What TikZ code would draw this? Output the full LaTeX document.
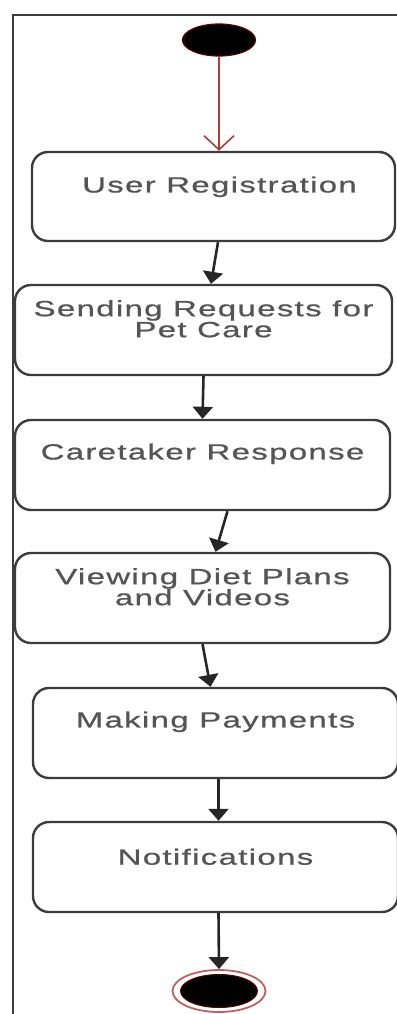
\documentclass[tikz,border=0pt]{standalone}
\usepackage{fontspec}
\usetikzlibrary{shapes.geometric,arrows.meta}
\newfontfamily\boxfont[FakeStretch=1.5,LetterSpace=6,FakeBold=0.8]{Liberation Sans}
\definecolor{framegray}{HTML}{3C3C3C}
\definecolor{textgray}{HTML}{555555}
\definecolor{flowred}{HTML}{B03A3A}

\tikzset{
	act/.style={draw=framegray,line width=1.2pt,rounded corners=8pt,inner sep=0pt},
	acttext/.style={text=textgray,align=center,inner sep=0pt,
		font=\boxfont\fontsize{11}{10.5}\selectfont},
	flow/.style={-{Triangle[width=10pt,length=6pt]},line width=1.3pt,color=black!85},
}

\begin{document}
\begin{tikzpicture}[x=0.5pt,y=-0.5pt]
\useasboundingbox (0,0) rectangle (397,1014);
% frame
\draw[color=framegray,line width=1.2pt] (13,1014) -- (13,15) -- (400,15);
%
\node (start) [ellipse,fill=black,draw=red!35!black,line width=0.6pt,
	minimum width=36.5pt,minimum height=16pt,inner sep=0pt] at (219,40) {};
%
\node (reg) [act,minimum width=181.5pt,minimum height=44.5pt] at (213.5,196.5) {};
\node (req) [act,minimum width=188.5pt,minimum height=45pt] at (203.5,330) {};
\node (resp) [act,minimum width=187.5pt,minimum height=45pt] at (202.5,465) {};
\node (view) [act,minimum width=187.5pt,minimum height=45pt] at (202.5,598) {};
\node (pay) [act,minimum width=182.5pt,minimum height=45pt] at (215.5,733) {};
\node (notif) [act,minimum width=182.5pt,minimum height=45pt] at (215.5,867) {};
%
\node (regtxt) [acttext] at ([xshift=3pt,yshift=-18pt]reg.north) {User Registration};
\node (reqtxt) [acttext] at ([yshift=-17.5pt]req.north) {Sending Requests for\\Pet Care};
\node (resptxt) [acttext] at ([yshift=-17.5pt]resp.north) {Caretaker Response};
\node (viewtxt) [acttext] at ([yshift=-17.5pt]view.north) {Viewing Diet Plans\\and Videos};
\node (paytxt) [acttext] at ([yshift=-17.5pt]pay.north) {Making Payments};
\node (notiftxt) [acttext] at ([yshift=-18pt]notif.north) {Notifications};
%
\node (end) [ellipse,draw=flowred!80,line width=0.9pt,fill=white,
	minimum width=46.5pt,minimum height=21pt,inner sep=0pt] at (219,991) {};
\node (endin) [ellipse,fill=black,draw=red!35!black,line width=0.5pt,
	minimum width=38.5pt,minimum height=16.5pt,inner sep=0pt] at (end) {};
%
\draw[-{Straight Barb[width=15pt,length=7pt]},color=flowred,line width=0.8pt]
	(start.south) -- ([xshift=2.75pt]reg.north);
\draw[flow] ([xshift=2.25pt]reg.south) -- ([xshift=3.75pt]req.north);
\draw[flow] (req.south) -- (resp.north);
\draw[flow] ([xshift=12.5pt]resp.south) -- ([xshift=6.5pt]view.north);
\draw[flow] (view.south) -- ([xshift=-2.5pt]pay.north);
\draw[flow] ([xshift=1.5pt]pay.south) -- ([xshift=1.5pt]notif.north);
\draw[flow] ([xshift=1.5pt]notif.south) -- (end.north);
\end{tikzpicture}
\end{document}
